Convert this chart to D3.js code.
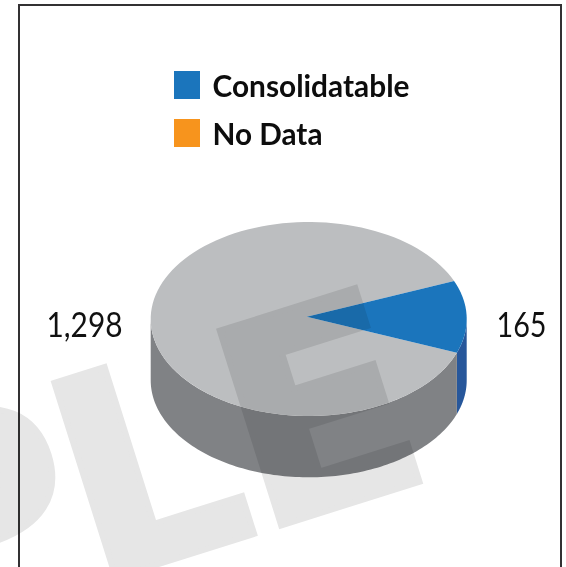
<!DOCTYPE html>
<html><head><meta charset="utf-8">
<script src="https://cdnjs.cloudflare.com/ajax/libs/d3/7.8.5/d3.min.js"></script>
<style>html,body{margin:0;padding:0;background:#fff}svg{display:block}</style>
</head><body><svg id="c" width="566" height="567"></svg>
<script>
const categories = ["Consolidatable", "No Data", "Other"];
const legendCategories = ["Consolidatable", "No Data"];
const values = [165, 0, 1298];
const valueLabels = ["165", "", "1,298"];
const topColors = ["#1b75bc", "#f7941d", "#bcbec0"];
const sideColors = ["#27579b", "#f7941d", "#808285"];
const watermark = "SAMPLE";

const svg = d3.select("#c");
const cx = 308.7, cy = 319, rx = 158, ry = 97, depth = 61.3;
const apex = [306.7, 316.8];
const pie = d3.pie().value(d => d).sort(null);
const slices = pie(values);
const blueEnd = slices[0].endAngle;
// reference draws the wedge slightly wider than its share, and rotated
const toDrawn = d3.scaleLinear().domain([0, blueEnd, 2 * Math.PI]).range([0, 43.3, 360]);
const startDeg = -23; // screen degrees, clockwise from east
const ptAt = deg => { const a = deg * Math.PI / 180; return [cx + rx * Math.cos(a), cy + ry * Math.sin(a)]; };

const drawn = slices.map((s, i) => ({ i, a0: startDeg + toDrawn(s.startAngle), a1: startDeg + toDrawn(s.endAngle) }))
  .filter(d => d.a1 > d.a0);

const line = d3.line();
const arcPts = (a0, a1) => d3.range(0, 121).map(k => ptAt(a0 + (a1 - a0) * k / 120));

// side walls: only the front half (0..180 deg)
drawn.forEach(d => {
  const lo = Math.max(d.a0, 0), hi = Math.min(d.a1, 180);
  if (hi <= lo) return;
  const pts = arcPts(lo, hi);
  const low = pts.map(p => [p[0], p[1] + depth]).reverse();
  svg.append("path").attr("d", line(pts.concat(low)) + "Z").attr("fill", sideColors[d.i]);
});
// tops
drawn.slice().reverse().forEach(d => {
  svg.append("path").attr("d", line([apex].concat(arcPts(d.a0, d.a1))) + "Z").attr("fill", topColors[d.i]);
});

// frame
svg.append("rect").attr("x", 19).attr("y", 5).attr("width", 542).attr("height", 600)
  .attr("fill", "none").attr("stroke", "#333133").attr("stroke-width", 2);

// legend
const legendLengths = [197, 110];
legendCategories.forEach((c, i) => {
  const k = categories.indexOf(c);
  const y = 71 + i * 48;
  svg.append("rect").attr("x", 174).attr("y", y).attr("width", 26).attr("height", 28).attr("fill", topColors[k]);
  svg.append("text").attr("x", 212.5).attr("y", y + 25.6).text(c)
    .attr("textLength", legendLengths[i]).attr("lengthAdjust", "spacingAndGlyphs")
    .attr("font-family", "Lato").attr("font-weight", 700).attr("font-size", 29.5).attr("fill", "#0d0d0d");
});

// value labels
svg.append("text").attr("x", 46.5).attr("y", 337).attr("textLength", 76).attr("lengthAdjust", "spacingAndGlyphs")
  .text(valueLabels[2]).attr("font-family", "Lato").attr("font-size", 34.5).attr("fill", "#111");
svg.append("text").attr("x", 496.5).attr("y", 337).attr("textLength", 50).attr("lengthAdjust", "spacingAndGlyphs")
  .text(valueLabels[0]).attr("font-family", "Lato").attr("font-size", 34.5).attr("fill", "#111");

// watermark
svg.append("text").text(watermark)
  .attr("transform", "translate(276,527) rotate(-17.5)")
  .attr("text-anchor", "end").attr("dx", "161 0 0 0 0 5")
  .attr("letter-spacing", -10)
  .attr("font-family", "'DejaVu Sans'").attr("font-weight", 700).attr("font-size", 280)
  .attr("fill", "#e6e6e6").attr("stroke", "#e6e6e6").attr("stroke-width", 6)
  .style("mix-blend-mode", "multiply");
</script></body></html>
